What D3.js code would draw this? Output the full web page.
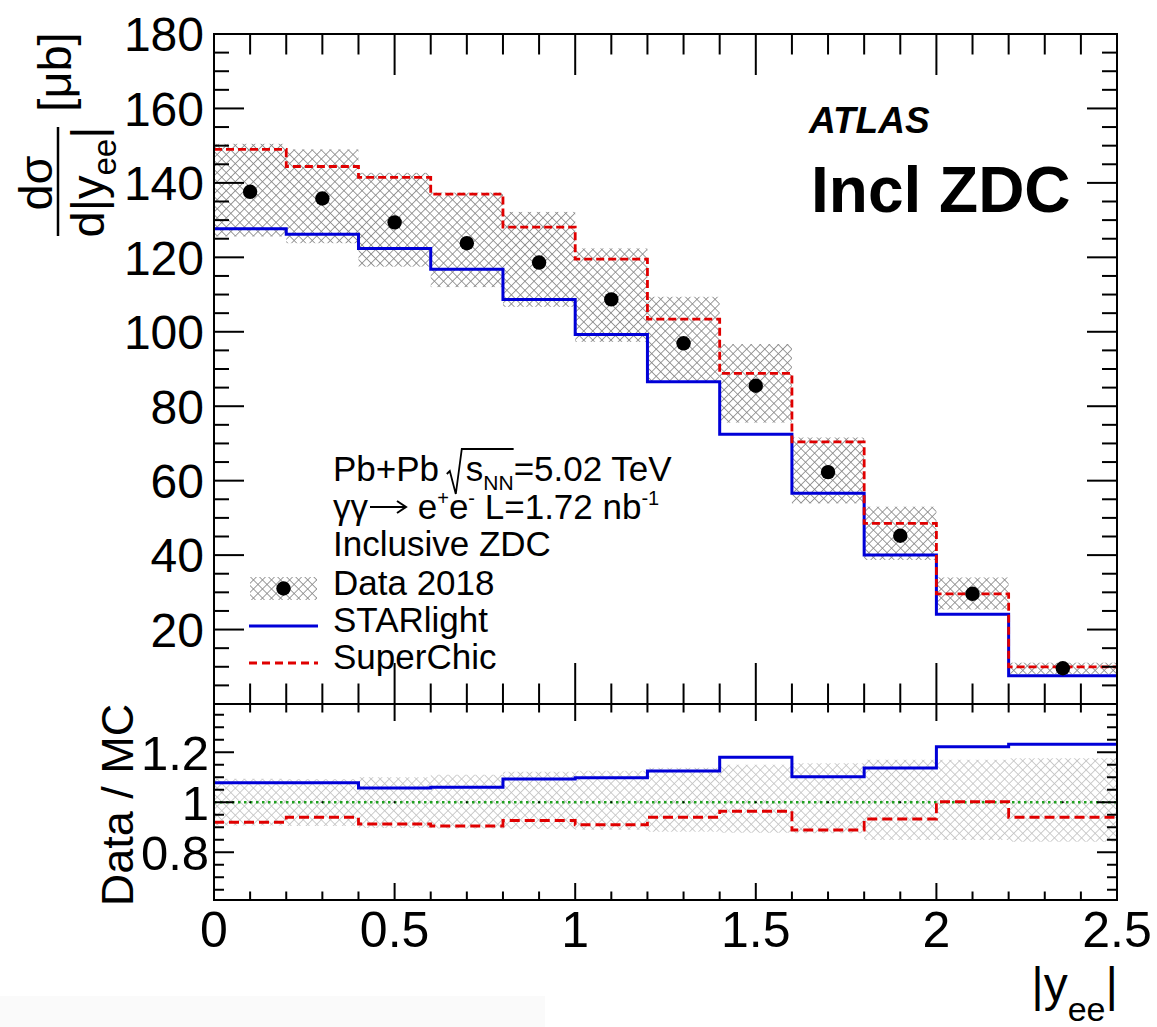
<!DOCTYPE html>
<html>
<head>
<meta charset="utf-8">
<script src="https://cdn.jsdelivr.net/npm/d3@7"></script>
<style>
  html, body { margin: 0; padding: 0; background: #fff; }
  svg { display: block; }
  text { font-family: "Liberation Sans", Arial, Helvetica, sans-serif; fill: #000; }
</style>
</head>
<body>
<svg id="chart" width="1157" height="1027"></svg>
<script>
// ---------------- DATA ----------------
const binEdges   = [0, 0.2, 0.4, 0.6, 0.8, 1.0, 1.2, 1.4, 1.6, 1.8, 2.0, 2.2, 2.5];
const binCenters = [0.1, 0.3, 0.5, 0.7, 0.9, 1.1, 1.3, 1.5, 1.7, 1.9, 2.1, 2.35];
const dataValues = [137.6, 135.8, 129.4, 123.8, 118.6, 108.7, 96.9, 85.5, 62.3, 45.2, 29.6, 9.6];
const dataBandUp   = [150.5, 149.0, 142.7, 137.4, 132.2, 122.4, 109.4, 96.7, 71.6, 53.0, 34.0, 11.1];
const dataBandDown = [125.6, 123.8, 117.5, 112.0, 106.7, 97.3, 86.6, 75.6, 53.9, 38.7, 25.4, 8.1];
const starlight  = [127.7, 126.2, 122.4, 116.8, 108.7, 99.3, 86.6, 72.5, 56.6, 40.0, 24.1, 7.6];
const superchic  = [149.0, 144.4, 141.5, 137.0, 128.1, 119.5, 103.4, 88.8, 70.4, 48.5, 29.6, 10.0];

const ratioStarlight = [1.078, 1.078, 1.057, 1.060, 1.093, 1.098, 1.125, 1.180, 1.102, 1.137, 1.222, 1.232];
const ratioSuperchic = [0.920, 0.940, 0.913, 0.905, 0.927, 0.910, 0.940, 0.964, 0.889, 0.933, 1.002, 0.940];
const ratioBandUp    = [1.094, 1.092, 1.100, 1.110, 1.122, 1.126, 1.138, 1.150, 1.156, 1.170, 1.170, 1.176];
const ratioBandDown  = [0.907, 0.905, 0.897, 0.895, 0.893, 0.890, 0.882, 0.878, 0.876, 0.849, 0.849, 0.842];

const mainYTicks  = [20, 40, 60, 80, 100, 120, 140, 160, 180];
const ratioYTicks = [0.8, 1.0, 1.2];
const xTicks      = [0, 0.5, 1, 1.5, 2, 2.5];
const xTickLabels = ["0", "0.5", "1", "1.5", "2", "2.5"];
const ratioYTickLabels = ["0.8", "1", "1.2"];

// ---------------- LAYOUT ----------------
const L = 214, R = 1117;
const mainTop = 34, mainBot = 704, ratTop = 704, ratBot = 900;

const svg = d3.select("#chart");
svg.append("rect").attr("x", 0).attr("y", 0).attr("width", 1157).attr("height", 1027).attr("fill", "#fff");
svg.append("rect").attr("x", 0).attr("y", 996).attr("width", 545).attr("height", 31).attr("fill", "#fafafa");

const x = d3.scaleLinear().domain([0, 2.5]).range([L, R]);
const yMain = d3.scaleLinear().domain([0, 180]).range([mainBot, mainTop]);
const yRat = d3.scaleLinear().domain([0.609, 1.393]).range([ratBot, ratTop]);

// hatch patterns
const defs = svg.append("defs");
function hatch(id, color, sw, s) {
  const p = defs.append("pattern").attr("id", id).attr("patternUnits", "userSpaceOnUse")
    .attr("width", s).attr("height", s).attr("patternTransform", "rotate(45)");
  p.append("line").attr("x1", 0).attr("y1", 0).attr("x2", 0).attr("y2", s).attr("stroke", color).attr("stroke-width", sw);
  p.append("line").attr("x1", 0).attr("y1", 0).attr("x2", s).attr("y2", 0).attr("stroke", color).attr("stroke-width", sw);
}
hatch("hMain", "#858585", 1.6, 6.4);
hatch("hRat", "#c2c2c2", 1.6, 6.4);

defs.append("clipPath").attr("id", "clipMain").append("rect").attr("x", L).attr("y", mainTop).attr("width", R - L).attr("height", mainBot - mainTop);
defs.append("clipPath").attr("id", "clipRat").append("rect").attr("x", L).attr("y", ratTop).attr("width", R - L).attr("height", ratBot - ratTop);

function stepPoints(vals) {
  const pts = vals.map((v, i) => [binEdges[i], v]);
  pts.push([binEdges[binEdges.length - 1], vals[vals.length - 1]]);
  return pts;
}

// ---------------- MAIN PANEL ----------------
const gMain = svg.append("g").attr("clip-path", "url(#clipMain)");
gMain.selectAll("rect.band").data(dataValues).enter().append("rect")
  .attr("x", (d, i) => x(binEdges[i]))
  .attr("width", (d, i) => x(binEdges[i + 1]) - x(binEdges[i]))
  .attr("y", (d, i) => yMain(dataBandUp[i]))
  .attr("height", (d, i) => yMain(dataBandDown[i]) - yMain(dataBandUp[i]))
  .attr("fill", "url(#hMain)");

const lineMain = d3.line().x(d => x(d[0])).y(d => yMain(d[1])).curve(d3.curveStepAfter);
gMain.append("path").attr("d", lineMain(stepPoints(starlight)))
  .attr("fill", "none").attr("stroke", "#0000d8").attr("stroke-width", 3);
gMain.append("path").attr("d", lineMain(stepPoints(superchic)))
  .attr("fill", "none").attr("stroke", "#e00000").attr("stroke-width", 2.8).attr("stroke-dasharray", "8,4");

gMain.selectAll("circle.pt").data(dataValues).enter().append("circle")
  .attr("cx", (d, i) => x(binCenters[i])).attr("cy", d => yMain(d)).attr("r", 7.2).attr("fill", "#000");

// ---------------- RATIO PANEL ----------------
const gRat = svg.append("g").attr("clip-path", "url(#clipRat)");
gRat.selectAll("rect.band").data(ratioBandUp).enter().append("rect")
  .attr("x", (d, i) => x(binEdges[i]))
  .attr("width", (d, i) => x(binEdges[i + 1]) - x(binEdges[i]))
  .attr("y", (d, i) => yRat(ratioBandUp[i]))
  .attr("height", (d, i) => yRat(ratioBandDown[i]) - yRat(ratioBandUp[i]))
  .attr("fill", "url(#hRat)");

gRat.append("line").attr("x1", x(0)).attr("x2", x(2.5)).attr("y1", yRat(1)).attr("y2", yRat(1))
  .attr("stroke", "#1fa01f").attr("stroke-width", 2.4).attr("stroke-dasharray", "2.5,3.5");
gRat.selectAll("circle.c").data(binCenters).enter().append("circle")
  .attr("cx", d => x(d)).attr("cy", yRat(1)).attr("r", 1).attr("fill", "#000");

const lineRat = d3.line().x(d => x(d[0])).y(d => yRat(d[1])).curve(d3.curveStepAfter);
gRat.append("path").attr("d", lineRat(stepPoints(ratioStarlight)))
  .attr("fill", "none").attr("stroke", "#0000d8").attr("stroke-width", 3);
gRat.append("path").attr("d", lineRat(stepPoints(ratioSuperchic)))
  .attr("fill", "none").attr("stroke", "#e00000").attr("stroke-width", 2.8).attr("stroke-dasharray", "10,5");

// ---------------- AXES / TICKS ----------------
const axisG = svg.append("g").attr("stroke", "#000").attr("stroke-width", 2).attr("fill", "none");
function tick(x1, y1, x2, y2) { axisG.append("line").attr("x1", x1).attr("y1", y1).attr("x2", x2).attr("y2", y2); }

const xMinor = d3.range(0, 26).map(i => i / 10);
xMinor.forEach(v => {
  const major = Math.abs(v * 2 - Math.round(v * 2)) < 1e-9;
  const px = x(v);
  const lm = major ? 41 : 20.5;
  tick(px, mainBot, px, mainBot - lm);
  tick(px, mainTop, px, mainTop + lm);
  const lr = major ? 17 : 8.5;
  tick(px, ratBot, px, ratBot - lr);
  tick(px, ratTop, px, ratTop + lr);
});
d3.range(5, 181, 5).forEach(v => {
  const major = v % 20 === 0;
  const py = yMain(v);
  const l = major ? 30 : 15;
  tick(L, py, L + l, py);
  tick(R, py, R - l, py);
});
d3.range(13, 28).map(i => i * 0.05).forEach(v => {
  const major = Math.abs(v * 5 - Math.round(v * 5)) < 1e-6;
  const py = yRat(v);
  if (py < ratTop + 2 || py > ratBot - 2) return;
  const l = major ? 20 : 10;
  tick(L, py, L + l, py);
  tick(R, py, R - l, py);
});
axisG.append("rect").attr("x", L).attr("y", mainTop).attr("width", R - L).attr("height", mainBot - mainTop);
axisG.append("rect").attr("x", L).attr("y", ratTop).attr("width", R - L).attr("height", ratBot - ratTop);

// tick labels
svg.selectAll("text.ym").data(mainYTicks).enter().append("text")
  .attr("x", 204).attr("y", d => yMain(d)).attr("dy", "0.36em")
  .attr("text-anchor", "end").attr("font-size", 48).text(d => d);
svg.selectAll("text.yr").data(ratioYTicks).enter().append("text")
  .attr("x", 209).attr("y", d => yRat(d)).attr("dy", "0.36em")
  .attr("text-anchor", "end").attr("font-size", 49).text((d, i) => ratioYTickLabels[i]);
svg.selectAll("text.xt").data(xTicks).enter().append("text")
  .attr("x", d => x(d)).attr("y", 947)
  .attr("text-anchor", "middle").attr("font-size", 50).text((d, i) => xTickLabels[i]);

// ---------------- TITLES ----------------
const xt = svg.append("text").attr("x", 1118).attr("y", 1001).attr("text-anchor", "end").attr("font-size", 48);
xt.append("tspan").text("|y");
xt.append("tspan").attr("font-size", 34).attr("dy", 20).text("ee");
xt.append("tspan").attr("dy", -20).text("|");

svg.append("text").attr("transform", "translate(52,183) rotate(-90)")
  .attr("text-anchor", "middle").attr("font-size", 47).text("dσ");
svg.append("line").attr("x1", 58).attr("x2", 58).attr("y1", 127).attr("y2", 236)
  .attr("stroke", "#000").attr("stroke-width", 2.5);
const den = svg.append("text").attr("transform", "translate(104,182) rotate(-90)")
  .attr("text-anchor", "middle").attr("font-size", 47);
den.append("tspan").text("d|y");
den.append("tspan").attr("font-size", 33).attr("dy", 12).text("ee");
den.append("tspan").attr("dy", -12).text("|");
svg.append("text").attr("transform", "translate(71,72) rotate(-90)")
  .attr("text-anchor", "middle").attr("font-size", 47).text("[μb]");

svg.append("text").attr("transform", "translate(133,805) rotate(-90)")
  .attr("text-anchor", "middle").attr("font-size", 45).text("Data / MC");

svg.append("text").attr("x", 809).attr("y", 133).attr("font-size", 37)
  .attr("font-weight", "bold").attr("font-style", "italic").text("ATLAS");
svg.append("text").attr("x", 811).attr("y", 212).attr("font-size", 64)
  .attr("font-weight", "bold").text("Incl ZDC");

// ---------------- LEGEND / INFO ----------------
const LS = 35;
function seq(x0, y0, segs) {
  let pos = x0;
  const out = [];
  segs.forEach(s => {
    if (s.gap) { out.push({ start: pos, end: pos + s.gap }); pos += s.gap; return; }
    const t = svg.append("text").attr("x", pos).attr("y", y0 + (s.dy || 0))
      .attr("font-size", s.size || LS).style("white-space", "pre").text(s.t);
    const w = t.node().getComputedTextLength();
    out.push({ start: pos, end: pos + w });
    pos += w;
  });
  return out;
}
const l1 = seq(333, 481, [
  { t: "Pb+Pb " }, { gap: 17 }, { t: "s" }, { t: "NN", size: 21, dy: 9 }, { t: "=5.02 TeV" }
]);
const rs = l1[1].start;
svg.append("path")
  .attr("d", `M${rs - 2},${474} L${rs + 1},${471} L${rs + 7},${494} L${rs + 13},${449} L${l1[3].end},${449}`)
  .attr("fill", "none").attr("stroke", "#000").attr("stroke-width", 1.8);

const l2 = seq(333, 519, [
  { t: "γγ" }, { gap: 40 }, { t: " e" }, { t: "+", size: 20, dy: -14 }, { t: "e" },
  { t: "-", size: 20, dy: -14 }, { t: " L=1.72 nb" }, { t: "-1", size: 20, dy: -14 }
]);
const a0 = l2[1].start + 2, a1 = l2[1].end - 2, ay = 507;
svg.append("path")
  .attr("d", `M${a0},${ay} L${a1},${ay} M${a1 - 9},${ay - 6} L${a1},${ay} L${a1 - 9},${ay + 6}`)
  .attr("fill", "none").attr("stroke", "#000").attr("stroke-width", 2);

svg.append("text").attr("x", 333).attr("y", 556).attr("font-size", LS).text("Inclusive ZDC");
svg.append("text").attr("x", 333).attr("y", 595).attr("font-size", LS).text("Data 2018");
svg.append("text").attr("x", 333).attr("y", 632).attr("font-size", LS).text("STARlight");
svg.append("text").attr("x", 333).attr("y", 669).attr("font-size", LS).text("SuperChic");

svg.append("rect").attr("x", 250).attr("y", 577).attr("width", 67).attr("height", 23).attr("fill", "url(#hMain)");
svg.append("circle").attr("cx", 283.5).attr("cy", 588.5).attr("r", 7.2).attr("fill", "#000");
svg.append("line").attr("x1", 249).attr("x2", 318).attr("y1", 626).attr("y2", 626)
  .attr("stroke", "#0000d8").attr("stroke-width", 3);
svg.append("line").attr("x1", 249).attr("x2", 318).attr("y1", 663).attr("y2", 663)
  .attr("stroke", "#e00000").attr("stroke-width", 2.8).attr("stroke-dasharray", "8,5");
</script>
</body>
</html>
